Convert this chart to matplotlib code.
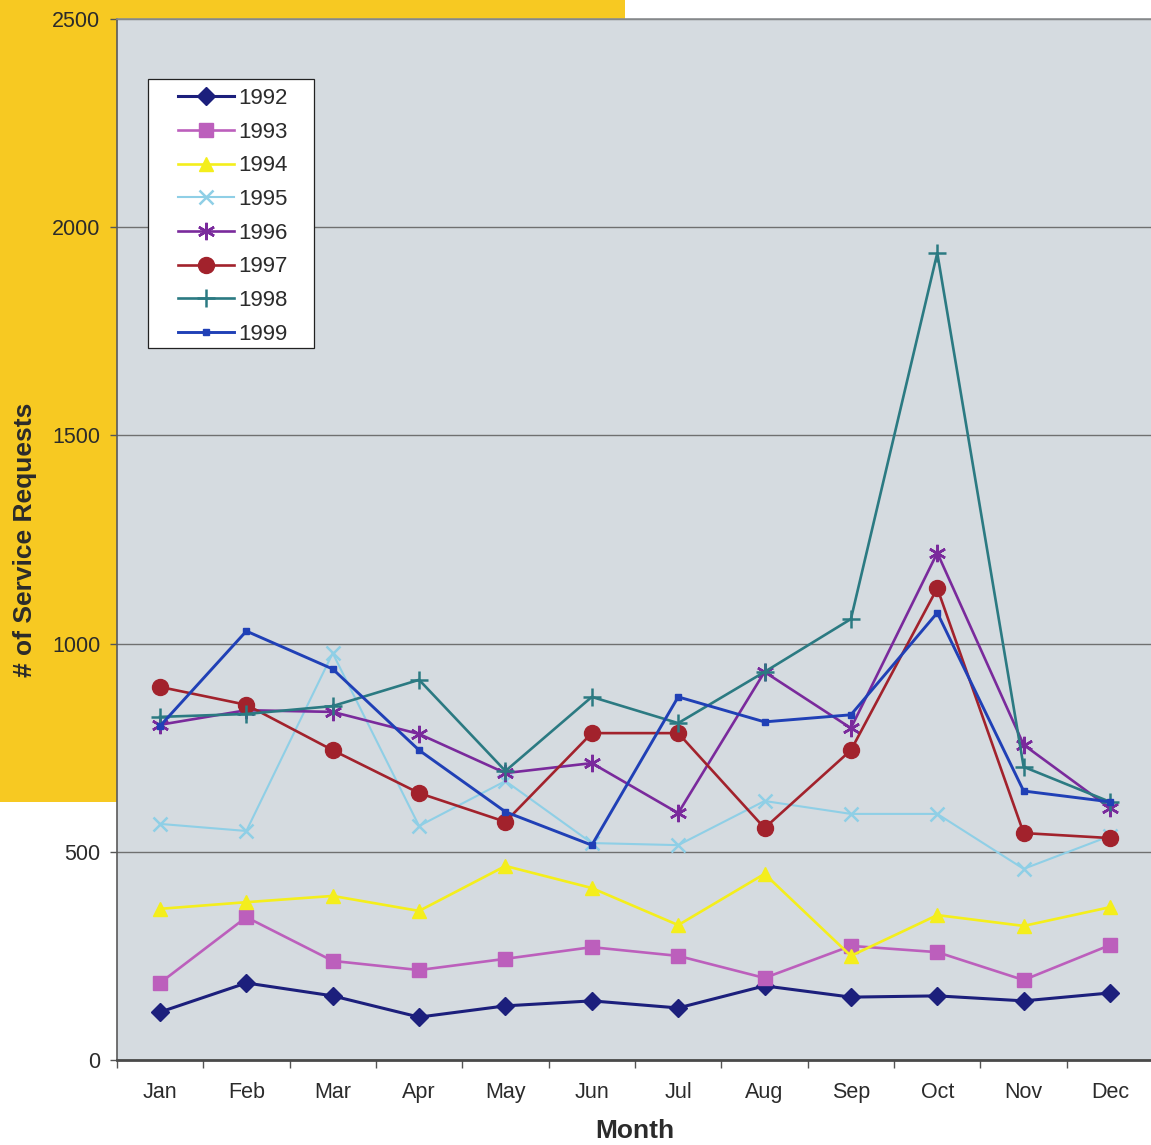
import matplotlib
matplotlib.use("Agg")
import matplotlib.pyplot as plt
from matplotlib.patches import Polygon, Rectangle

plt.rcParams['font.family'] = ['Liberation Sans', 'DejaVu Sans']

months = ['Jan', 'Feb', 'Mar', 'Apr', 'May', 'Jun', 'Jul', 'Aug', 'Sep', 'Oct', 'Nov', 'Dec']

req_1992 = [115, 185, 154, 103, 130, 142, 125, 178, 151, 154, 142, 161]
req_1993 = [185, 343, 238, 216, 243, 271, 250, 197, 274, 259, 192, 276]
req_1994 = [363, 379, 394, 358, 466, 413, 324, 447, 250, 348, 322, 367]
req_1995 = [567, 550, 977, 562, 670, 521, 516, 622, 591, 591, 459, 538]
req_1996 = [805, 840, 836, 783, 689, 713, 593, 932, 797, 1218, 757, 605]
req_1997 = [896, 853, 744, 641, 572, 785, 785, 557, 744, 1133, 545, 533]
req_1998 = [824, 831, 850, 913, 694, 872, 809, 932, 1059, 1938, 704, 620]
req_1999 = [802, 1030, 939, 744, 596, 516, 872, 812, 829, 1074, 646, 620]

years = ['1992', '1993', '1994', '1995', '1996', '1997', '1998', '1999']
series = [req_1992, req_1993, req_1994, req_1995, req_1996, req_1997, req_1998, req_1999]

# line colour, marker, marker size, marker edge width, line width
styles = [
    ('#1c1f7c', 'D', 9, 1.0, 2.2),
    ('#bc5fbc', 's', 9.5, 1.0, 1.9),
    ('#f4ee1c', '^', 10.5, 1.0, 1.9),
    ('#8fcfe6', 'x', 9.5, 1.8, 1.5),
    ('#7a2a9c', (6, 2, 0), 12.5, 1.8, 1.9),
    ('#a2222c', 'o', 11.5, 1.0, 1.9),
    ('#2b7a82', '+', 13, 1.8, 1.9),
    ('#2040b6', 's', 4, 1.0, 2.1),
]

W, H = 1151, 1145
fig = plt.figure(figsize=(W / 100, H / 100), dpi=100)
fig.patch.set_facecolor('white')

# yellow backdrop behind the top-left of the chart
fig.patches.append(Polygon(
    [(0, 1), (625 / W, 1), (625 / W, 1 - 802 / H), (0, 1 - 802 / H)],
    closed=True, transform=fig.transFigure, facecolor='#f7c922',
    edgecolor='none', zorder=0))

left, right = 116.8 / W, 1153.2 / W
bottom, top = 1 - 1060 / H, 1 - 19 / H
ax = fig.add_axes([left, bottom, right - left, top - bottom])
ax.set_facecolor('#d5dbe0')
ax.set_zorder(1)

x = list(range(len(months)))
for yr, vals, (col, mk, ms, mew, lw) in zip(years, series, styles):
    ax.plot(x, vals, color=col, marker=mk, markersize=ms, markeredgewidth=mew,
            markerfacecolor=col, markeredgecolor=col, linewidth=lw, label=yr,
            zorder=3)

ax.set_xlim(-0.5, len(months) - 0.5)
ax.set_ylim(0, 2500)

ax.set_yticks([0, 500, 1000, 1500, 2000, 2500])
ax.yaxis.grid(True, color='#6f7070', linewidth=1.0)
ax.set_axisbelow(True)
ax.tick_params(axis='y', direction='out', length=5, width=1, color='#555555',
               labelsize=15.5, labelcolor='#2b2b2b', pad=7)

# category ticks between months, labels centred on each month
ax.set_xticks([i - 0.5 for i in range(len(months) + 1)])
ax.set_xticklabels([])
ax.set_xticks(x, minor=True)
ax.set_xticklabels(months, minor=True)
ax.tick_params(axis='x', which='major', direction='out', length=6, width=1,
               color='#555555')
ax.tick_params(axis='x', which='minor', length=0, labelsize=15.5,
               labelcolor='#2b2b2b', pad=16)

ax.spines['right'].set_visible(False)
ax.spines['top'].set_color('#8a8d90')
ax.spines['top'].set_linewidth(1.2)
ax.spines['left'].set_color('#5a5a5a')
ax.spines['left'].set_linewidth(1.2)
ax.spines['bottom'].set_color('#4a4a4a')
ax.spines['bottom'].set_linewidth(2.0)

fig.text(635 / W, 1 - 1131 / H, 'Month', ha='center', va='center',
         fontsize=19, fontweight='bold', color='#2b2b2b')
fig.text(25 / W, 1 - 540 / H, '# of Service Requests', ha='center', va='center',
         rotation=90, fontsize=19, fontweight='bold', color='#2b2b2b')

# legend box drawn separately so the padding can be wider than the row gap
ax.add_patch(Rectangle((148 / W, 1 - 348 / H), 166 / W, 269 / H,
                       transform=fig.transFigure, facecolor='white',
                       edgecolor='#222222', linewidth=0.9, clip_on=False,
                       zorder=4.5))
leg = ax.legend(loc='upper left', bbox_to_anchor=(178 / W, 1 - 88 / H),
                bbox_transform=fig.transFigure, fontsize=16, frameon=False,
                borderpad=0, labelspacing=0.57, handlelength=2.52,
                handletextpad=0.18, borderaxespad=0, numpoints=1)
leg.set_zorder(5)
for t in leg.get_texts():
    t.set_color('#2b2b2b')

fig.savefig('out.png', dpi=100)
